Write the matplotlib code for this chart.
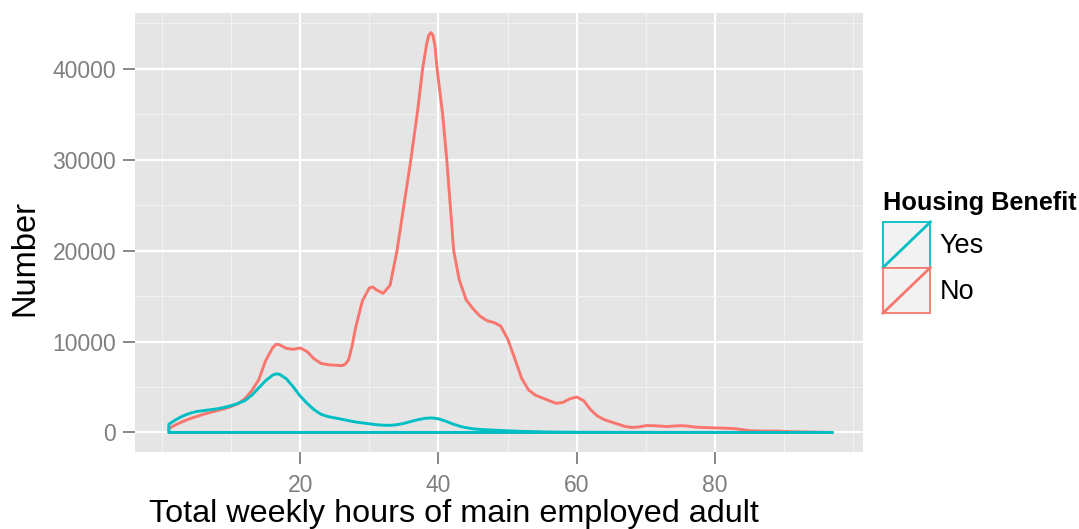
import matplotlib
matplotlib.use("Agg")
import matplotlib.pyplot as plt
from matplotlib.legend_handler import HandlerBase
from matplotlib.patches import Rectangle
from matplotlib.lines import Line2D

# hours vs number
hours_no = [1, 2, 3, 4, 5, 6, 7, 8, 9, 10, 11, 12, 13, 14, 15, 16, 16.5, 17, 18, 19,
            20, 21, 22, 23, 24, 25, 26, 26.5, 27, 27.5, 28, 29, 30, 30.5, 31, 32, 33, 34,
            35, 36, 37, 37.7, 38.3, 38.6, 38.9, 39.2, 39.5, 39.8, 40.6, 41.2, 41.7, 42.2,
            43, 44, 45, 46, 47, 48, 49, 50, 51, 52, 53, 54, 55, 56, 57, 58, 59, 60, 61,
            62, 63, 64, 65, 66, 67, 68, 69, 70, 71, 72, 73, 74, 75, 76, 77, 78, 80, 82,
            83, 84, 85, 87, 89, 91, 94, 97]
number_no = [450, 850, 1200, 1500, 1750, 2000, 2200, 2400, 2600, 2850, 3150, 3700, 4600,
             5800, 7900, 9300, 9700, 9650, 9250, 9150, 9300, 8900, 8100, 7600, 7450, 7400,
             7350, 7500, 8000, 9500, 11500, 14500, 15900, 16000, 15700, 15300, 16200, 20000,
             25000, 30000, 35500, 40000, 42800, 43700, 44000, 43700, 42500, 40000, 35000,
             30000, 25000, 20000, 16800, 14600, 13600, 12800, 12300, 12100, 11700, 10300,
             8200, 6000, 4700, 4100, 3800, 3500, 3200, 3300, 3700, 3900, 3500, 2500, 1800,
             1400, 1150, 900, 650, 550, 600, 750, 750, 700, 650, 700, 750, 700, 600, 550,
             500, 450, 400, 300, 200, 150, 150, 80, 40, 0]

hours_yes = [1, 2, 3, 4, 5, 6, 7, 8, 9, 10, 11, 12, 13, 14, 15, 16, 16.5, 17, 18, 19, 20,
             21, 22, 23, 24, 25, 26, 27, 28, 29, 30, 31, 32, 33, 34, 35, 36, 37, 38, 39,
             40, 41, 42, 43, 44, 45, 46, 48, 50, 52, 55, 58, 62, 70, 97]
number_yes = [900, 1400, 1800, 2100, 2300, 2400, 2500, 2600, 2750, 2950, 3200, 3500, 4100,
              4900, 5700, 6300, 6450, 6400, 5900, 5000, 4000, 3200, 2500, 2000, 1750, 1600,
              1450, 1300, 1150, 1050, 950, 850, 800, 780, 850, 1000, 1200, 1400, 1550,
              1600, 1500, 1250, 950, 700, 520, 400, 330, 250, 180, 120, 60, 30, 15, 5, 0]

x_ticks = [20, 40, 60, 80]
y_ticks = [0, 10000, 20000, 30000, 40000]
groups = ['Yes', 'No']
colors = {'Yes': '#00BFC4', 'No': '#F8766D'}

plt.rcParams['font.family'] = ['Liberation Sans', 'DejaVu Sans']


class BoxDiagHandler(HandlerBase):
    # ggplot-style key: grey box with coloured border and a diagonal line
    def create_artists(self, legend, orig_handle, xdescent, ydescent, width, height,
                       fontsize, trans):
        c = orig_handle.get_edgecolor()
        box = Rectangle((-xdescent, -ydescent), width, height, facecolor='#F2F2F2',
                        edgecolor=c, linewidth=1.3, transform=trans)
        diag = Line2D([-xdescent, -xdescent + width], [-ydescent, -ydescent + height],
                      color=c, linewidth=2.0, transform=trans)
        return [box, diag]


fig = plt.figure(figsize=(10.79, 5.29), dpi=100)
ax = fig.add_axes([0.1251, 0.1456, 0.6747, 0.8298])
ax.set_facecolor('#E5E5E5')

h_no = ax.fill_between(hours_no, 0, number_no, facecolor='none',
                       edgecolor=colors['No'], linewidth=2.1)
h_yes = ax.fill_between(hours_yes, 0, number_yes, facecolor='none',
                        edgecolor=colors['Yes'], linewidth=2.1)

ax.set_xlim(-3.9, 101.4)
ax.set_ylim(-2150, 46150)
ax.set_xticks(x_ticks)
ax.set_yticks(y_ticks)
ax.set_xticks([0, 10, 30, 50, 70, 90, 100], minor=True)
ax.set_yticks([5000, 15000, 25000, 35000, 45000], minor=True)
ax.grid(which='major', color='white', linewidth=1.6)
ax.grid(which='minor', color='#F2F2F2', linewidth=0.8)
ax.set_axisbelow(True)
for s in ax.spines.values():
    s.set_visible(False)
ax.tick_params(which='major', length=8.5, width=1.3, color='#7F7F7F',
               labelcolor='#7F7F7F', labelsize=16.5)
ax.tick_params(axis='y', pad=5)
ax.tick_params(axis='x', pad=7)
ax.tick_params(which='minor', length=0)

ax.set_xlabel('Total weekly hours of main employed adult', fontsize=23.3)
ax.xaxis.set_label_coords((454 - 135) / 728, (452 - 499) / 439)
ax.set_ylabel('Number', fontsize=23.5, va='center')
ax.yaxis.set_label_coords((25 - 135) / 728, (452 - 258) / 439)

# legend title set apart, as ggplot leaves a gap above the keys
fig.text(883 / 1079, 1 - 203 / 529, 'Housing Benefit', fontsize=18.2,
         fontweight='bold', ha='left', va='center')
leg = ax.legend([h_yes, h_no], groups, handler_map={type(h_yes): BoxDiagHandler()},
                loc='upper left', bbox_to_anchor=(883 / 1079, 1 - 222 / 529),
                bbox_transform=fig.transFigure, frameon=False, borderpad=0,
                borderaxespad=0, fontsize=19.5, handlelength=1.75, handleheight=2.21,
                labelspacing=0, handletextpad=0.35)

fig.savefig('out.png', dpi=100)
